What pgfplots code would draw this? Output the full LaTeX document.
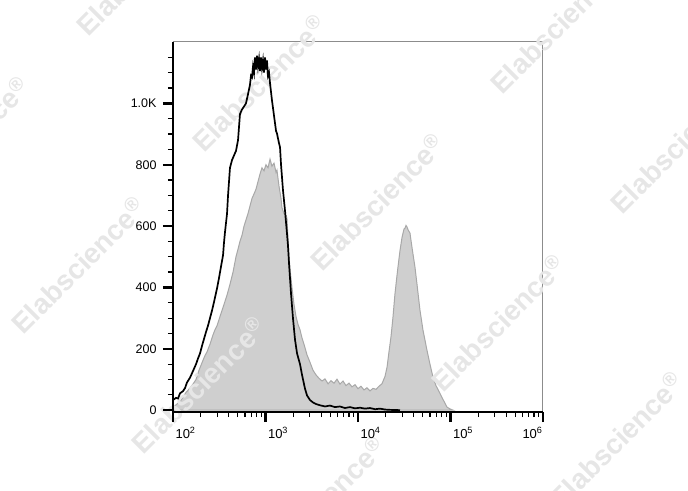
\documentclass[border=0pt]{standalone}
\usepackage{fontspec}
\setmainfont{Liberation Sans}
\usepackage{pgfplots}
\pgfplotsset{compat=1.18}
\usepackage{pgfplotstable}

\definecolor{histgray}{HTML}{CFCFCF}
\definecolor{edgegray}{HTML}{A8A8A8}
\definecolor{wmgray}{HTML}{E6E6E6}
\definecolor{framegray}{HTML}{8C8C8C}

% x = log10(intensity), y = count
\pgfplotstableread{
lx y
2.000 5
2.022 15
2.043 20
2.076 28
2.108 42
2.141 58
2.184 72
2.216 85
2.249 100
2.281 130
2.314 155
2.346 178
2.368 190
2.400 215
2.432 245
2.454 262
2.476 275
2.508 305
2.541 335
2.584 375
2.616 410
2.649 450
2.681 500
2.703 525
2.724 550
2.746 570
2.768 600
2.789 620
2.811 641
2.832 665
2.854 690
2.876 705
2.897 720
2.919 745
2.941 770
2.962 790
2.984 780
3.005 800
3.027 790
3.049 818
3.070 795
3.092 805
3.114 775
3.124 782
3.146 730
3.168 690
3.178 660
3.200 640
3.222 635
3.232 625
3.243 560
3.254 500
3.265 460
3.286 400
3.308 345
3.330 305
3.351 280
3.373 262
3.395 235
3.416 215
3.449 180
3.481 156
3.514 130
3.546 115
3.578 104
3.611 95
3.643 102
3.676 86
3.708 96
3.741 88
3.773 101
3.805 85
3.838 95
3.870 80
3.903 88
3.935 76
3.968 83
4.000 70
4.032 78
4.065 66
4.097 73
4.130 63
4.162 71
4.195 68
4.227 78
4.259 86
4.292 110
4.314 140
4.335 190
4.357 240
4.378 303
4.400 380
4.422 440
4.432 466
4.454 520
4.476 563
4.497 590
4.508 593
4.519 602
4.530 597
4.541 588
4.562 577
4.584 530
4.616 466
4.638 410
4.670 326
4.703 260
4.746 195
4.778 150
4.811 107
4.843 80
4.886 55
4.919 35
4.962 10
4.995 4
5.027 0
}\stained

\pgfplotstableread{
lx y
2.000 33
2.032 40
2.054 38
2.076 55
2.108 62
2.130 72
2.151 90
2.184 106
2.205 120
2.227 135
2.249 150
2.270 168
2.292 185
2.314 210
2.335 232
2.357 255
2.378 275
2.400 300
2.422 325
2.443 352
2.465 382
2.476 397
2.497 430
2.519 468
2.541 505
2.551 545
2.562 580
2.584 640
2.595 700
2.616 790
2.638 815
2.659 830
2.681 845
2.703 880
2.724 965
2.746 980
2.768 990
2.789 1000
2.811 1030
2.832 1060
2.843 1090
2.854 1085
2.865 1120
2.876 1100
2.886 1150
2.897 1110
2.908 1155
2.919 1120
2.930 1145
2.941 1105
2.951 1150
2.962 1115
2.973 1140
2.984 1100
2.995 1150
3.005 1110
3.016 1140
3.027 1090
3.038 1100
3.049 1065
3.070 1010
3.092 960
3.114 910
3.124 902
3.146 870
3.157 857
3.168 800
3.189 717
3.211 650
3.232 577
3.243 537
3.254 480
3.265 430
3.276 380
3.297 300
3.319 230
3.341 185
3.373 150
3.395 115
3.427 70
3.449 48
3.481 33
3.514 25
3.546 20
3.589 16
3.643 12
3.697 15
3.751 10
3.805 12
3.859 7
3.914 10
3.968 6
4.022 8
4.076 5
4.130 7
4.184 3
4.238 5
4.292 2
4.346 1
4.454 0
}\control

\tikzset{wm/.style={text=wmgray, rotate=45, inner sep=0pt,
  font=\bfseries\fontsize{28}{28}\selectfont}}
\newcommand{\wm}{Elabscience\textsuperscript{\textregistered}}

\begin{document}
\begin{tikzpicture}
\path[use as bounding box] (0pt,0pt) rectangle (688pt,490pt);
\clip (0pt,0pt) rectangle (688pt,490pt);
\fill[white] (0pt,0pt) rectangle (688pt,490pt);
\begin{axis}[
  at={(173pt,78pt)}, anchor=south west,
  width=370pt, height=370pt, scale only axis,
  xmin=2, xmax=6, ymin=-6, ymax=1200,
  axis lines=left,
  axis line style={-, line width=1.6pt, black},
  axis on top, clip=false,
  tick align=outside,
  major tick length=10pt, minor tick length=5pt,
  major tick style={line width=2.4pt, black},
  minor tick style={line width=1.2pt, black},
  xtick={2,3,4,5,6},
  xticklabels={10\textsuperscript{2},10\textsuperscript{3},10\textsuperscript{4},10\textsuperscript{5},\llap{10\textsuperscript{6}\kern3pt}},
  minor xtick={2.301,2.477,2.602,2.699,2.778,2.845,2.903,2.954,
    3.301,3.477,3.602,3.699,3.778,3.845,3.903,3.954,
    4.301,4.477,4.602,4.699,4.778,4.845,4.903,4.954,
    5.301,5.477,5.602,5.699,5.778,5.845,5.903,5.954},
  xticklabel style={anchor=north west, xshift=-1pt, yshift=-2pt, font=\fontsize{13}{15}\selectfont},
  ytick={0,200,400,600,800,1000},
  yticklabels={0,200,400,600,800,1.0K},
  minor ytick={50,100,150,250,300,350,450,500,550,650,700,750,850,900,950,1050,1100,1150},
  yticklabel style={xshift=-3pt, font=\fontsize{12.5}{14}\selectfont},
]
\draw[framegray, line width=1pt] (rel axis cs:0,1) -- (rel axis cs:1,1) -- (rel axis cs:1,0);
\addplot[draw=edgegray, line width=1pt, fill=histgray] table[x=lx, y=y] {\stained} \closedcycle;
\node[wm] at (rel axis cs:0.232,0.889) {\wm};
\node[wm] at (rel axis cs:0.551,0.568) {\wm};
\node[wm] at (rel axis cs:0.878,0.241) {\wm};
\node[wm] at (rel axis cs:1.197,-0.076) {\wm};
\node[wm] at (rel axis cs:-0.570,0.722) {\wm};
\node[wm] at (rel axis cs:-0.257,0.397) {\wm};
\node[wm] at (rel axis cs:0.068,0.073) {\wm};
\node[wm] at (rel axis cs:0.392,-0.251) {\wm};
\node[wm] at (rel axis cs:-0.081,1.203) {\wm};
\node[wm] at (rel axis cs:1.038,1.046) {\wm};
\node[wm] at (rel axis cs:1.362,0.722) {\wm};
\addplot[black, line width=1.7pt] table[x=lx, y=y] {\control};
\end{axis}
\end{tikzpicture}
\end{document}
